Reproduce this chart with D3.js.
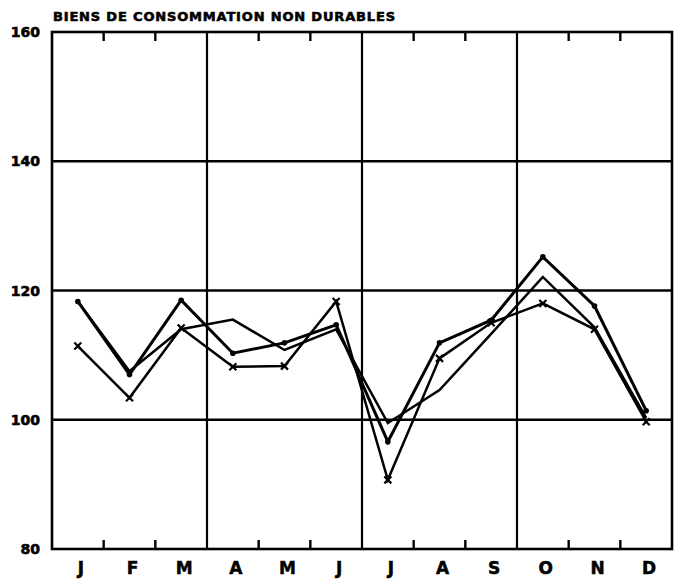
<!DOCTYPE html>
<html><head><meta charset="utf-8">
<script src="https://cdn.jsdelivr.net/npm/d3@7"></script>
<style>body{margin:0;background:#fff}svg{display:block}</style>
</head><body>
<svg id="c" width="681" height="583"></svg>
<script>
const title = "BIENS DE CONSOMMATION NON DURABLES";
const months = ["J","F","M","A","M","J","J","A","S","O","N","D"];
const yTicks = [80,100,120,140,160];
const seriesA = [118.3,107.0,118.5,110.3,111.9,114.7,96.6,111.9,115.4,125.2,117.6,101.4];
const seriesB = [111.4,103.4,114.2,108.2,108.3,118.3,90.7,109.5,115.0,118.0,114.0,99.7];
const seriesC = [118.3,107.5,114.0,115.5,110.8,114.0,99.5,104.6,113.3,122.1,114.3,100.3];

const svg = d3.select("#c");
const L=52,R=672,T=32,B=549;
const idx = d3.range(12);
const x = d3.scaleBand().domain(idx).range([L,R]).padding(0);
const cx = i => x(i)+x.bandwidth()/2;
const y = d3.scaleLinear().domain([80,160]).range([B,T]);

svg.append("g").selectAll("line").data(yTicks.filter(v=>v>80&&v<160)).join("line")
  .attr("x1",L).attr("x2",R).attr("y1",d=>y(d)).attr("y2",d=>y(d))
  .attr("stroke","#000").attr("stroke-width",2.4);
svg.append("g").selectAll("line").data([3,6,9]).join("line")
  .attr("x1",d=>x(d)).attr("x2",d=>x(d)).attr("y1",T).attr("y2",B)
  .attr("stroke","#000").attr("stroke-width",2.2);
const tk = [1,2,4,5,7,8,10,11];
svg.append("g").selectAll("line").data(tk).join("line")
  .attr("x1",d=>x(d)).attr("x2",d=>x(d)).attr("y1",T).attr("y2",T+9)
  .attr("stroke","#000").attr("stroke-width",2.4);
svg.append("g").selectAll("line").data(tk).join("line")
  .attr("x1",d=>x(d)).attr("x2",d=>x(d)).attr("y1",B).attr("y2",B-9)
  .attr("stroke","#000").attr("stroke-width",2.4);
svg.append("rect").attr("x",L).attr("y",T).attr("width",R-L).attr("height",B-T)
  .attr("fill","none").attr("stroke","#000").attr("stroke-width",2.6);

svg.append("g").selectAll("text").data(yTicks).join("text")
  .attr("x",40).attr("y",d=>y(d)+5).attr("text-anchor","end")
  .attr("font-family","DejaVu Sans").attr("font-weight","bold").attr("font-size",14)
  .attr("stroke","#000").attr("stroke-width",0.6)
  .text(d=>d);
svg.append("g").selectAll("text").data(months).join("text")
  .attr("x",(d,i)=>cx(i)+3).attr("y",574).attr("text-anchor","middle")
  .attr("font-family","DejaVu Sans").attr("font-weight","bold").attr("font-size",17)
  .attr("stroke","#000").attr("stroke-width",0.5)
  .text(d=>d);
svg.append("text").attr("x",53).attr("y",21)
  .attr("font-family","DejaVu Sans").attr("font-weight","bold").attr("font-size",13)
  .attr("stroke","#000").attr("stroke-width",0.6)
  .attr("textLength",342).attr("lengthAdjust","spacing").text(title);

const line = d3.line().x((d,i)=>cx(i)).y(d=>y(d));
function drawSeries(data,w){
  svg.append("path").datum(data).attr("d",line).attr("fill","none")
    .attr("stroke","#000").attr("stroke-width",w).attr("stroke-linejoin","miter");
}
drawSeries(seriesC,2.5);
drawSeries(seriesB,2.5);
drawSeries(seriesA,3.0);

svg.append("g").selectAll("circle").data(seriesA).join("circle")
  .attr("cx",(d,i)=>cx(i)).attr("cy",d=>y(d)).attr("r",2.8).attr("fill","#000");
const gB = svg.append("g");
seriesB.forEach((d,i)=>{
  const px=cx(i), py=y(d), s=3.5;
  gB.append("path").attr("d",`M${px-s},${py-s}L${px+s},${py+s}M${px-s},${py+s}L${px+s},${py-s}`)
    .attr("stroke","#000").attr("stroke-width",2.2);
});
</script>
</body></html>
